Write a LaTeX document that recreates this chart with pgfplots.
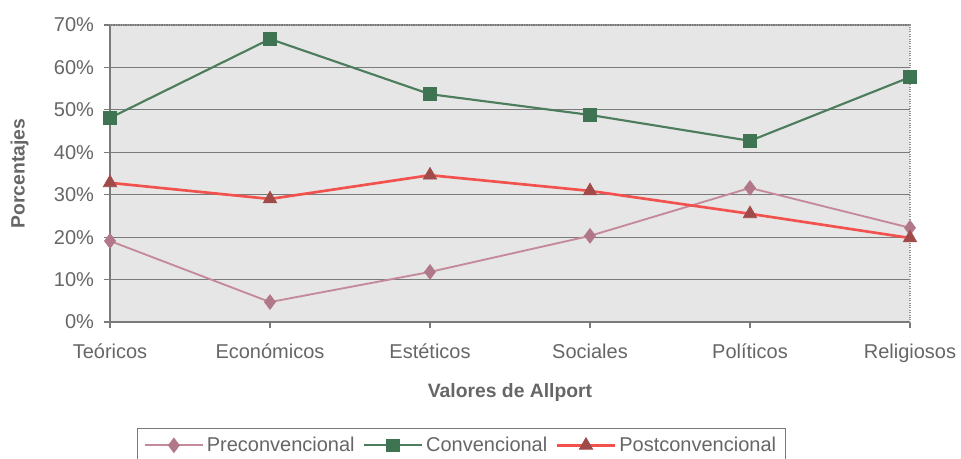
\documentclass[border=0pt]{standalone}
\usepackage{fontspec}
\setmainfont{Liberation Sans}
\usepackage{pgfplots}
\pgfplotsset{compat=1.18}

\definecolor{txtgray}{HTML}{666666}
\definecolor{bggray}{HTML}{E6E6E6}
\definecolor{gridgray}{HTML}{7A7A7A}
\definecolor{preline}{HTML}{C48A9A}
\definecolor{premark}{HTML}{B07888}
\definecolor{conline}{HTML}{4C7D5C}
\definecolor{conmark}{HTML}{3F7452}
\definecolor{postline}{HTML}{F2524E}
\definecolor{postmark}{HTML}{A04A4A}

\begin{document}
\begin{tikzpicture}
\begin{axis}[
  scale only axis,
  width=600pt, height=222.75pt,
  xmin=0, xmax=5, ymin=0, ymax=70,
  xtick={0,1,2,3,4,5},
  xticklabels={Teóricos,Económicos,Estéticos,Sociales,Políticos,Religiosos},
  ytick={0,10,...,70},
  yticklabel={\pgfmathprintnumber{\tick}\%},
  /pgf/number format/assume math mode=true,
  tick label style={font=\fontsize{15}{18}\selectfont, text=txtgray},
  yticklabel style={xshift=-4pt},
  xticklabel style={yshift=-8.5pt},
  tick align=outside,
  major tick length=4.5pt,
  tick style={gridgray, line width=0.8pt},
  xtick pos=bottom, ytick pos=left,
  axis line style={draw=none},
  axis background/.style={fill=bggray},
  ymajorgrids,
  major grid style={gridgray, line width=0.9pt},
  xlabel={\textbf{Valores de Allport}},
  ylabel={\textbf{Porcentajes}},
  label style={font=\fontsize{14.5}{17}\selectfont, text=txtgray},
  xlabel style={at={(axis description cs:0.5,-0.239)}, anchor=center},
  ylabel style={at={(axis description cs:-0.113,0.5)}, anchor=center},
  legend columns=3,
  legend style={
    at={(axis description cs:0.439,-0.357)}, anchor=north,
    draw=gridgray, line width=0.6pt, fill=white,
    font=\fontsize{15}{18}\selectfont, text=txtgray,
    inner xsep=5pt, inner ysep=4.5pt,
    /tikz/every even column/.append style={column sep=4pt},
  },
  legend image code/.code={
    \draw[#1, mark repeat=2, mark phase=2] plot coordinates {(0pt,0pt) (22pt,0pt) (44pt,0pt)};
  },
  clip=false,
]
% plot frame: solid left/bottom, dotted top/right
\draw[gridgray, line width=1pt] (rel axis cs:0,1) -- (rel axis cs:0,0) -- (rel axis cs:1,0);
\draw[gridgray!80, line width=0.8pt, densely dotted] (rel axis cs:0,1) -- (rel axis cs:1,1) -- (rel axis cs:1,0);

\addplot[preline, line width=1.4pt, mark=diamond*, mark size=5.5pt,
  mark options={fill=premark, draw=premark, line width=0.5pt}]
  coordinates {(0,19.1) (1,4.7) (2,11.8) (3,20.3) (4,31.6) (5,22.2)};
\addlegendentry{Preconvencional}

\addplot[conline, line width=1.6pt, mark=square*, mark size=4.8pt,
  mark options={fill=conmark, draw=conmark, line width=0.5pt}]
  coordinates {(0,48.1) (1,66.7) (2,53.7) (3,48.8) (4,42.7) (5,57.7)};
\addlegendentry{Convencional}

\addplot[postline, line width=2pt, mark=triangle*, mark size=5.8pt,
  mark options={fill=postmark, draw=postmark, line width=0.5pt}]
  coordinates {(0,32.8) (1,29.0) (2,34.6) (3,30.9) (4,25.5) (5,19.8)};
\addlegendentry{Postconvencional}

\coordinate (bl) at (rel axis cs:0,0);
\coordinate (tr) at (rel axis cs:1,1);
\end{axis}
\pgfresetboundingbox
\useasboundingbox ([xshift=-82.5pt,yshift=-102.75pt]bl) rectangle ([xshift=38.25pt,yshift=18.75pt]tr);
\end{tikzpicture}
\end{document}
